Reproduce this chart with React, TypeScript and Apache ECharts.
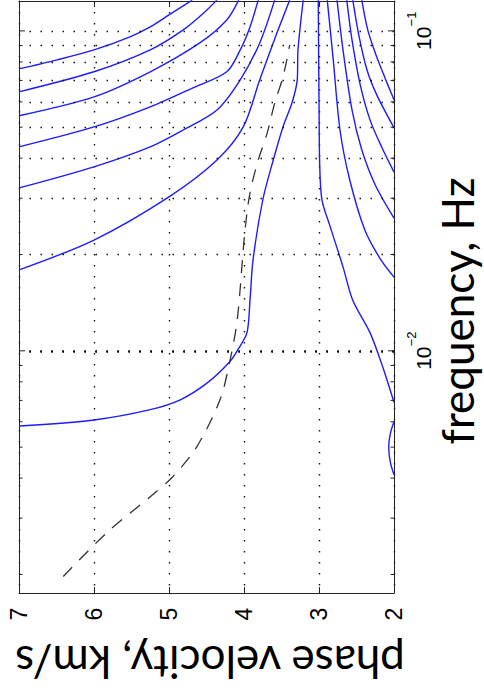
import React, { useEffect, useRef } from "react";
import * as echarts from "echarts";

// phase velocity (km/s) vs frequency (Hz)
const modeA = [[7.0, 0.0761], [6.49, 0.0812], [6.0, 0.0872], [5.52, 0.0958], [5.25, 0.1029], [5.0, 0.1122], [4.79, 0.1206], [4.69, 0.125]];
const modeB = [[7.0, 0.0645], [6.0, 0.0745], [5.25, 0.0872], [4.81, 0.1007], [4.52, 0.1147], [4.36, 0.125]];
const modeC = [[7.0, 0.0543], [6.0, 0.0622], [5.25, 0.0745], [4.59, 0.0917], [4.23, 0.1082], [4.07, 0.125]];
const modeD = [[7.0, 0.0434], [6.0, 0.0501], [5.25, 0.0579], [4.68, 0.0664], [4.23, 0.0745], [4.05, 0.0872], [3.92, 0.1029], [3.81, 0.125]];
const modeE = [[7.0, 0.0323], [6.0, 0.0376], [5.25, 0.0434], [4.81, 0.049], [4.36, 0.0566], [4.05, 0.0703], [3.79, 0.0917], [3.59, 0.125]];
const modeF = [[7.0, 0.0179], [6.0, 0.0222], [5.0, 0.0303], [4.36, 0.0395], [4.01, 0.0501], [3.79, 0.0703], [3.56, 0.0986], [3.39, 0.125]];
const modeMain = [[7.0, 0.00582], [6.0, 0.00608], [5.25, 0.00655], [4.85, 0.00703], [4.49, 0.00794], [4.19, 0.00925], [4.08, 0.0101], [3.96, 0.0114], [3.92, 0.0144], [3.88, 0.0192], [3.75, 0.0296], [3.61, 0.0395], [3.48, 0.0501], [3.36, 0.0596], [3.29, 0.0703], [3.28, 0.0873], [3.21, 0.125]];
const modeLow = [[3.01, 0.125], [3.0, 0.0608], [2.99, 0.0376], [2.96, 0.0296], [2.85, 0.0244], [2.68, 0.0183], [2.55, 0.0144], [2.32, 0.0114], [2.15, 0.0089], [2.0, 0.0069]];
const modeLoop = [[2.0, 0.006], [2.05, 0.0055], [2.07, 0.005], [2.05, 0.0045], [2.0, 0.0041]];
const modeR1 = [[2.89, 0.125], [2.81, 0.0812], [2.72, 0.049], [2.59, 0.0342], [2.39, 0.0239], [2.19, 0.0195], [2.0, 0.017]];
const modeR2 = [[2.76, 0.125], [2.68, 0.0872], [2.56, 0.0566], [2.43, 0.0425], [2.25, 0.033], [2.0, 0.026]];
const modeR3 = [[2.63, 0.125], [2.56, 0.0937], [2.45, 0.0678], [2.32, 0.0527], [2.16, 0.0431], [2.0, 0.0362]];
const modeR4 = [[2.55, 0.125], [2.47, 0.0972], [2.36, 0.0755], [2.23, 0.0631], [2.0, 0.0498]];
const modeR5 = [[2.43, 0.125], [2.35, 0.1007], [2.24, 0.0841], [2.12, 0.0713], [2.0, 0.0609]];
const dashedRef = [[6.41, 0.00197], [5.83, 0.0027], [5.25, 0.0035], [4.95, 0.00404], [4.63, 0.00501], [4.32, 0.00703], [4.19, 0.00925], [4.09, 0.0125], [3.99, 0.0234], [3.92, 0.0312], [3.81, 0.0395], [3.69, 0.048], [3.59, 0.0596], [3.48, 0.0718], [3.39, 0.0904]];

const blueCurves = [modeA, modeB, modeC, modeD, modeE, modeF, modeMain, modeLow, modeLoop, modeR1, modeR2, modeR3, modeR4, modeR5];

// tick values / labels
const velocityTicks = [7, 6, 5, 4, 3, 2];
const freqDecades = [0.01, 0.1];
const freqDecadeExps = ["\u22122", "\u22121"];
const freqGrid = [0.002, 0.003, 0.004, 0.005, 0.006, 0.007, 0.008, 0.009, 0.01, 0.02, 0.03, 0.04, 0.05, 0.06, 0.07, 0.08, 0.09, 0.1];
const freqMin = 0.00175;
const freqMax = 0.124;
const velMin = 2;
const velMax = 7;

const isDecade = (f: number) => Math.abs(Math.log10(f) - Math.round(Math.log10(f))) < 1e-6;

export default function App() {
  const ref = useRef<HTMLDivElement>(null);
  useEffect(() => {
    if (!ref.current) return;
    const chart = echarts.init(ref.current, undefined, { renderer: "svg" });
    const axisColor = "#222";
    const curveSeries = blueCurves.map((c) => ({
      type: "line",
      data: c,
      showSymbol: false,
      smooth: 0.3,
      silent: true,
      z: 3,
      lineStyle: { color: "#1c1cff", width: 1.4 },
    }));
    const dotted = { type: [1.5, 9.5], color: "#111", width: 1.4 };
    chart.setOption({
      animation: false,
      backgroundColor: "#fff",
      grid: { left: 19, right: 90, top: 1, bottom: 105, show: false },
      xAxis: [
        {
          type: "value", min: velMin, max: velMax, interval: 1, inverse: true, position: "bottom",
          axisLine: { show: true, onZero: false, lineStyle: { color: axisColor, width: 1 } },
          axisTick: { show: true, inside: true, length: 6, lineStyle: { color: axisColor } },
          axisLabel: { show: false },
          splitLine: { show: true, lineStyle: dotted },
        },
        {
          type: "value", min: velMin, max: velMax, interval: 1, inverse: true, position: "top",
          axisLine: { show: true, onZero: false, lineStyle: { color: axisColor, width: 1 } },
          axisTick: { show: true, inside: true, length: 6, lineStyle: { color: axisColor } },
          axisLabel: { show: false },
          splitLine: { show: false },
        },
      ],
      yAxis: [
        {
          type: "log", logBase: 10, min: freqMin, max: freqMax, position: "right",
          axisLine: { show: true, onZero: false, lineStyle: { color: axisColor, width: 1 } },
          axisTick: { show: false }, splitLine: { show: false }, axisLabel: { show: false },
        },
        {
          type: "log", logBase: 10, min: freqMin, max: freqMax, position: "left",
          axisLine: { show: true, onZero: false, lineStyle: { color: axisColor, width: 1 } },
          axisTick: { show: false }, splitLine: { show: false }, axisLabel: { show: false },
        },
      ],
      series: [
        {
          type: "line", data: [], silent: true, z: 1,
          markLine: {
            silent: true, symbol: "none", label: { show: false },
            lineStyle: dotted,
            data: freqGrid.map((f) => ({ yAxis: f })),
          },
        },
        {
          // inner ticks on the left and right frame
          type: "custom", z: 5, silent: true, clip: false,
          data: freqGrid.map((f) => [velMin, f]),
          encode: { x: 0, y: 1 },
          renderItem: (params: any, api: any) => {
            const f = api.value(1);
            const l = api.coord([velMax, f]);
            const r = api.coord([velMin, f]);
            const len = isDecade(f) ? 6 : 3.5;
            return {
              type: "group",
              children: [
                { type: "line", shape: { x1: l[0], y1: l[1], x2: l[0] + len, y2: l[1] }, style: { stroke: axisColor, lineWidth: 1 } },
                { type: "line", shape: { x1: r[0], y1: r[1], x2: r[0] - len, y2: r[1] }, style: { stroke: axisColor, lineWidth: 1 } },
              ],
            };
          },
        },
        ...curveSeries,
        {
          type: "line", data: dashedRef, showSymbol: false, smooth: 0.3, silent: true, z: 3,
          lineStyle: { color: "#333", width: 1.3, type: [13, 10] },
        },
      ],
    });

    // rotated tick labels placed through the axes' own scales
    const px = (v: number) => chart.convertToPixel({ xAxisIndex: 0 }, v) as number;
    const py = (f: number) => chart.convertToPixel({ yAxisIndex: 0 }, f) as number;
    const bottomY = py(freqMin);
    const rightX = px(velMin);
    const velLabels = velocityTicks.map((v) => ({
      type: "text", x: px(v), y: bottomY + 21, rotation: Math.PI / 2,
      style: { text: String(v), fontSize: 23, fontFamily: "Liberation Sans", fill: "#000", align: "center", verticalAlign: "middle" },
    }));
    const freqLabels = freqDecades.map((f, i) => ({
      type: "group", x: rightX + 29, y: py(f), rotation: Math.PI / 2,
      children: [
        { type: "text", x: -19, y: 0, style: { text: "10", fontSize: 21, fontFamily: "Liberation Sans", fill: "#000", align: "left", verticalAlign: "middle" } },
        { type: "text", x: 4.5, y: -12, style: { text: freqDecadeExps[i], fontSize: 13, fontFamily: "Liberation Sans", fill: "#000", align: "left", verticalAlign: "middle" } },
      ],
    }));
    chart.setOption({
      graphic: [
        {
          type: "text", x: 210, y: 663, rotation: Math.PI,
          style: { text: "phase velocity, km/s", fontSize: 44, fontFamily: "Lato", fill: "#000", align: "center", verticalAlign: "middle" },
        },
        {
          type: "text", x: 457, y: 311, rotation: Math.PI / 2,
          style: { text: "frequency, Hz", fontSize: 44, fontFamily: "Lato", fill: "#000", align: "center", verticalAlign: "middle" },
        },
        ...velLabels,
        ...freqLabels,
      ],
    });
    return () => chart.dispose();
  }, []);
  return <div ref={ref} style={{ position: "absolute", left: 0, top: 0, width: 484, height: 698 }} />;
}
